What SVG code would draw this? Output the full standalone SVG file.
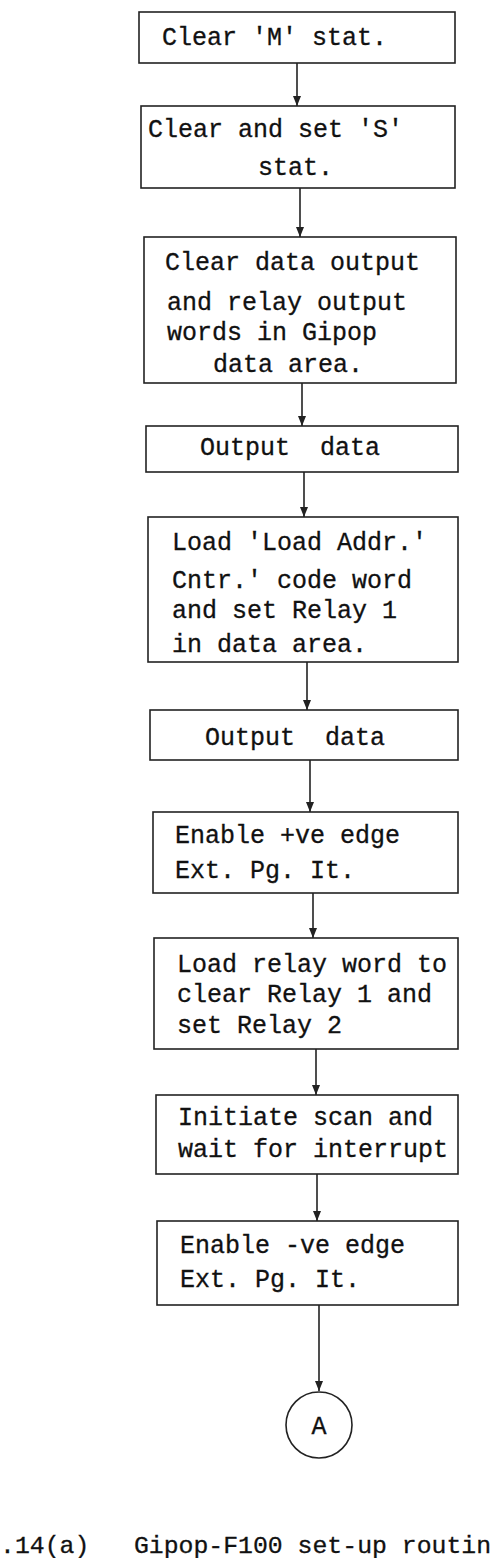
<svg xmlns="http://www.w3.org/2000/svg" width="494" height="1558" viewBox="0 0 494 1558">
<style>
.box{fill:none;stroke:#222;stroke-width:1.6}
.t{font-family:"Liberation Mono","Courier New",monospace;font-size:25px;fill:#111;stroke:#111;stroke-width:0.3;white-space:pre}
.c{stroke:#222;stroke-width:1.6;fill:none}
</style>
<defs>
<marker id="ah" markerUnits="userSpaceOnUse" markerWidth="8" markerHeight="10" refX="4" refY="10" orient="0" viewBox="0 0 8 10">
<path d="M0,0 L8,0 L4,10 Z" fill="#222"/>
</marker>
</defs>
<g id="connectors">
<line class="c" x1="297" y1="63" x2="297" y2="106" marker-end="url(#ah)"/>
<line class="c" x1="300" y1="188" x2="300" y2="237" marker-end="url(#ah)"/>
<line class="c" x1="302" y1="383" x2="302" y2="426" marker-end="url(#ah)"/>
<line class="c" x1="304" y1="472" x2="304" y2="517" marker-end="url(#ah)"/>
<line class="c" x1="307" y1="662" x2="307" y2="710" marker-end="url(#ah)"/>
<line class="c" x1="310" y1="760" x2="310" y2="812" marker-end="url(#ah)"/>
<line class="c" x1="313" y1="893" x2="313" y2="938" marker-end="url(#ah)"/>
<line class="c" x1="316" y1="1049" x2="316" y2="1095" marker-end="url(#ah)"/>
<line class="c" x1="317" y1="1174" x2="317" y2="1221" marker-end="url(#ah)"/>
<line class="c" x1="319" y1="1305" x2="319" y2="1391" marker-end="url(#ah)"/>
</g>
<g id="n1"><rect class="box" x="139" y="12" width="316" height="51"/><text class="t" x="162" y="45">Clear 'M' stat.</text></g>
<g id="n2"><rect class="box" x="141" y="106" width="314" height="82"/><text class="t" x="148" y="137">Clear and set 'S'</text><text class="t" x="258" y="175">stat.</text></g>
<g id="n3"><rect class="box" x="144" y="237" width="312" height="146"/><text class="t" x="165" y="270">Clear data output</text><text class="t" x="167" y="310">and relay output</text><text class="t" x="167" y="340">words in Gipop</text><text class="t" x="213" y="372">data area.</text></g>
<g id="n4"><rect class="box" x="146" y="426" width="312" height="46"/><text class="t" x="200" y="455">Output  data</text></g>
<g id="n5"><rect class="box" x="148" y="517" width="310" height="145"/><text class="t" x="172" y="550">Load 'Load Addr.'</text><text class="t" x="172" y="588">Cntr.' code word</text><text class="t" x="172" y="618">and set Relay 1</text><text class="t" x="172" y="652">in data area.</text></g>
<g id="n6"><rect class="box" x="150" y="710" width="308" height="50"/><text class="t" x="205" y="745">Output  data</text></g>
<g id="n7"><rect class="box" x="153" y="812" width="305" height="81"/><text class="t" x="175" y="843">Enable +ve edge</text><text class="t" x="175" y="878">Ext. Pg. It.</text></g>
<g id="n8"><rect class="box" x="154" y="938" width="304" height="111"/><text class="t" x="177" y="972">Load relay word to</text><text class="t" x="177" y="1002">clear Relay 1 and</text><text class="t" x="177" y="1033">set Relay 2</text></g>
<g id="n9"><rect class="box" x="156" y="1095" width="302" height="79"/><text class="t" x="178" y="1125">Initiate scan and</text><text class="t" x="178" y="1157">wait for interrupt</text></g>
<g id="n10"><rect class="box" x="157" y="1221" width="301" height="84"/><text class="t" x="180" y="1253">Enable -ve edge</text><text class="t" x="180" y="1287">Ext. Pg. It.</text></g>
<g id="nA"><circle class="box" cx="319" cy="1425" r="33"/><text class="t" x="319" y="1434" text-anchor="middle">A</text></g>
<g id="caption"><text class="t" x="0" y="1553" style="font-size:24.8px">.14(a)   Gipop-F100 set-up routin</text></g>
</svg>
